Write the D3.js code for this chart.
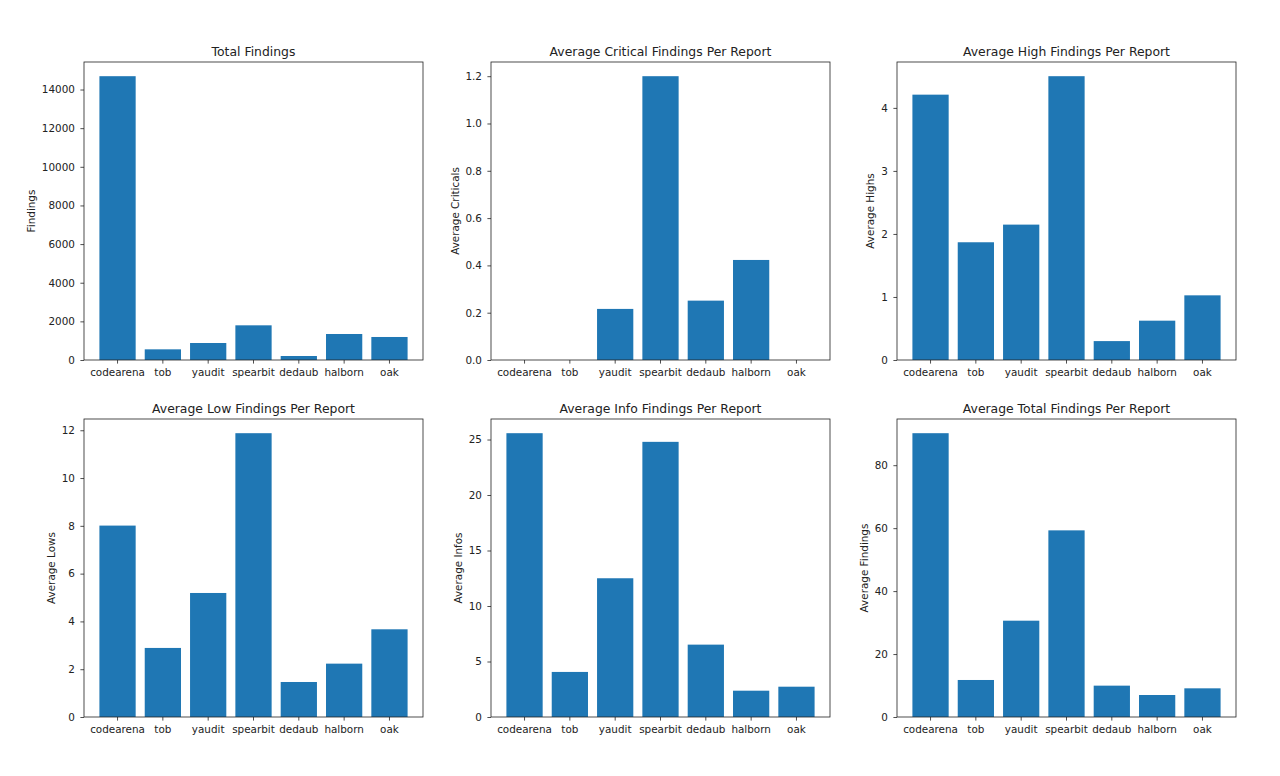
<!DOCTYPE html>
<html lang="en">
<head>
  <meta charset="UTF-8">
  <title>Audit Findings</title>
  <script src="https://d3js.org/d3.v7.min.js"></script>
  <style>
    body { margin: 0; background: #fff; overflow: hidden; }
    svg { display: block; font-family: "DejaVu Sans", sans-serif; }
    .tick line { stroke: #222; stroke-width: 0.8; }
  </style>
</head>
<body>
  <svg id="chart" width="1280" height="776"></svg>
  <script>
    // data
    const categories = ["codearena", "tob", "yaudit", "spearbit", "dedaub", "halborn", "oak"];
    const totalFindings = [14690, 552, 880, 1795, 207, 1346, 1191];
    const avgCriticals = [0, 0, 0.216, 1.2, 0.251, 0.423, 0];
    const avgHighs = [4.21, 1.868, 2.148, 4.503, 0.30, 0.624, 1.026];
    const avgLows = [8.01, 2.89, 5.19, 11.877, 1.465, 2.233, 3.67];
    const avgInfos = [25.57, 4.06, 12.5, 24.79, 6.52, 2.37, 2.73];
    const avgTotals = [90.17, 11.76, 30.6, 59.3, 9.96, 6.99, 9.11];

    const ticksTotal = [0, 2000, 4000, 6000, 8000, 10000, 12000, 14000];
    const ticksCrit = [0, 0.2, 0.4, 0.6, 0.8, 1.0, 1.2];
    const ticksHigh = [0, 1, 2, 3, 4];
    const ticksLow = [0, 2, 4, 6, 8, 10, 12];
    const ticksInfo = [0, 5, 10, 15, 20, 25];
    const ticksAvgTotal = [0, 20, 40, 60, 80];

    const panels = [
      { title: "Total Findings", ylabel: "Findings", values: totalFindings, ticks: ticksTotal, fmt: d3.format("d") },
      { title: "Average Critical Findings Per Report", ylabel: "Average Criticals", values: avgCriticals, ticks: ticksCrit, fmt: d3.format(".1f") },
      { title: "Average High Findings Per Report", ylabel: "Average Highs", values: avgHighs, ticks: ticksHigh, fmt: d3.format("d") },
      { title: "Average Low Findings Per Report", ylabel: "Average Lows", values: avgLows, ticks: ticksLow, fmt: d3.format("d") },
      { title: "Average Info Findings Per Report", ylabel: "Average Infos", values: avgInfos, ticks: ticksInfo, fmt: d3.format("d") },
      { title: "Average Total Findings Per Report", ylabel: "Average Findings", values: avgTotals, ticks: ticksAvgTotal, fmt: d3.format("d") }
    ];

    const svg = d3.select("#chart");
    const colLeft = [84, 491, 897];
    const rowTop = [62, 419];
    const w = 339, h = 298;
    const FONT = "DejaVu Sans";

    panels.forEach((p, i) => {
      const g = svg.append("g")
        .attr("transform", `translate(${colLeft[i % 3]},${rowTop[Math.floor(i / 3)]})`);

      const x = d3.scaleBand()
        .domain(categories)
        .range([0, w])
        .paddingInner(0.2)
        .paddingOuter(0.34);

      const y = d3.scaleLinear()
        .domain([0, d3.max(p.values) * 1.05])
        .range([h, 0]);

      g.selectAll("rect.bar")
        .data(p.values)
        .join("rect")
        .attr("class", "bar")
        .attr("x", (d, j) => x(categories[j]))
        .attr("y", d => y(d))
        .attr("width", x.bandwidth())
        .attr("height", d => h - y(d))
        .attr("fill", "#1f77b4");

      const xAxis = g.append("g")
        .attr("transform", `translate(0,${h})`)
        .call(d3.axisBottom(x).tickSize(3.6).tickSizeOuter(0).tickPadding(5));
      xAxis.select(".domain").remove();

      const yAxis = g.append("g")
        .call(d3.axisLeft(y).tickValues(p.ticks).tickFormat(p.fmt).tickSize(3.6).tickSizeOuter(0).tickPadding(5.5));
      yAxis.select(".domain").remove();

      [xAxis, yAxis].forEach(a => a
        .attr("font-family", FONT)
        .attr("font-size", 10.4)
        .selectAll(".tick text").attr("fill", "#222"));

      // frame
      g.append("rect")
        .attr("width", w)
        .attr("height", h)
        .attr("fill", "none")
        .attr("stroke", "#222")
        .attr("stroke-width", 0.8);

      g.append("text")
        .attr("x", w / 2)
        .attr("y", -6.5)
        .attr("text-anchor", "middle")
        .attr("font-family", FONT)
        .attr("font-size", 12.4)
        .attr("fill", "#222")
        .text(p.title);

      // y label beside the tick labels
      const minX = d3.min(yAxis.selectAll(".tick text").nodes(), n => n.getBBox().x);
      g.append("text")
        .attr("transform", `translate(${minX - 10.5},${h / 2}) rotate(-90)`)
        .attr("text-anchor", "middle")
        .attr("dy", "0.35em")
        .attr("font-family", FONT)
        .attr("font-size", 10.4)
        .attr("fill", "#222")
        .text(p.ylabel);
    });
  </script>
</body>
</html>
